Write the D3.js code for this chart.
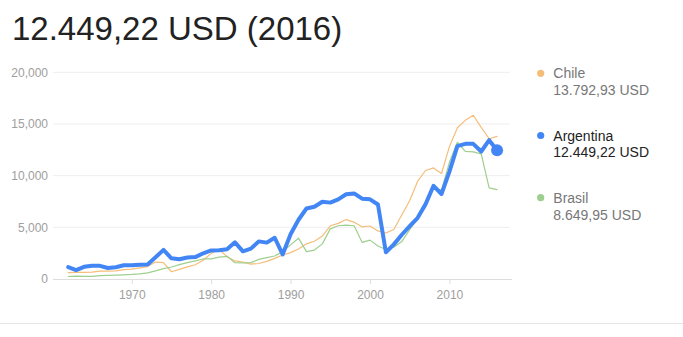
<!DOCTYPE html>
<html>
<head>
<meta charset="utf-8">
<script src="https://cdn.jsdelivr.net/npm/d3@7"></script>
<style>
  body { margin: 0; background: #fff; font-family: Arial, "Liberation Sans", sans-serif; }
  svg { display: block; }
  .tick text { font-family: Arial, "Liberation Sans", sans-serif; }
</style>
</head>
<body>
<svg id="chart" width="683" height="337"></svg>
<script>
const years = d3.range(1962, 2017);

const argentina = [
  1150, 850, 1175, 1280, 1275, 1065, 1140, 1330, 1320, 1375,
  1410, 2100, 2815, 2000, 1910, 2075, 2120, 2490, 2760, 2780,
  2870, 3550, 2680, 2940, 3640, 3520, 3990, 2380, 4330, 5735,
  6820, 6990, 7480, 7390, 7710, 8205, 8280, 7770, 7710, 7210,
  2590, 3350, 4280, 5110, 5920, 7245, 9020, 8225, 10385, 12850,
  13080, 13080, 12335, 13430, 12449.22
];
const chile = [
  620, 640, 650, 670, 760, 770, 790, 900, 950, 1080,
  1200, 1640, 1580, 700, 930, 1180, 1380, 1820, 2480, 2880,
  2150, 1750, 1640, 1440, 1500, 1700, 2000, 2320, 2550, 2900,
  3400, 3650, 4150, 5150, 5380, 5750, 5500, 5050, 5130, 4650,
  4450, 4790, 6200, 7600, 9460, 10500, 10750, 10210, 12810, 14640,
  15350, 15840, 14670, 13570, 13792.93
];
const brasil = [
  240, 280, 258, 257, 318, 348, 376, 408, 445, 503,
  588, 780, 1006, 1158, 1394, 1582, 1758, 1938, 1948, 2121,
  2193, 1577, 1564, 1580, 1895, 2067, 2222, 2650, 3300, 3950,
  2650, 2800, 3400, 4850, 5150, 5220, 5150, 3550, 3760, 3200,
  2850, 3070, 3620, 4770, 5870, 7330, 8820, 8600, 11290, 13230,
  12350, 12300, 12110, 8810, 8649.95
];

const yTicks = [0, 5000, 10000, 15000, 20000];
const xTicks = [1970, 1980, 1990, 2000, 2010];

const series = [
  { name: "Chile", value: "13.792,93 USD", data: chile, color: "#f5bd7a", width: 1.2, active: false },
  { name: "Argentina", value: "12.449,22 USD", data: argentina, color: "#4285f4", width: 4, active: true },
  { name: "Brasil", value: "8.649,95 USD", data: brasil, color: "#9fcf8e", width: 1.2, active: false },
];

const svg = d3.select("#chart");

// headline
svg.append("text")
  .attr("x", 12)
  .attr("y", 40)
  .attr("font-size", 33)
  .attr("fill", "#222")
  .text("12.449,22 USD (2016)");

const x = d3.scaleLinear().domain([1960, 2017.5]).range([52.3, 509]);
const y = d3.scaleLinear().domain([0, 20000]).range([279, 72.3]);

// gridlines
svg.append("g")
  .selectAll("line")
  .data(yTicks.filter((d) => d > 0))
  .join("line")
  .attr("x1", 53)
  .attr("x2", 510)
  .attr("y1", (d) => y(d))
  .attr("y2", (d) => y(d))
  .attr("stroke", "#eeeeee")
  .attr("stroke-width", 1);

// y axis labels
const yAxis = svg.append("g")
  .attr("transform", "translate(53,0)")
  .call(d3.axisLeft(y).tickValues(yTicks).tickFormat(d3.format(",")).tickSize(0).tickPadding(5));
yAxis.select(".domain").remove();
yAxis.selectAll("text").attr("font-size", 12).attr("fill", "#9e9e9e");

// x axis
const xAxis = svg.append("g")
  .attr("transform", `translate(0,${y(0)})`)
  .call(d3.axisBottom(x).tickValues(xTicks).tickFormat(d3.format("d")).tickSize(5).tickSizeOuter(0).tickPadding(6));
xAxis.select(".domain").attr("d", "M53,0.5H512").attr("stroke", "#dddddd");
xAxis.selectAll(".tick line").attr("stroke", "#dddddd");
xAxis.selectAll("text").attr("font-size", 12).attr("fill", "#9e9e9e");

const line = d3.line()
  .x((d, i) => x(years[i]))
  .y((d) => y(d))
  .curve(d3.curveLinear);

// lines, active series drawn on top
series
  .slice()
  .sort((a, b) => a.active - b.active)
  .forEach((s) => {
    svg.append("path")
      .datum(s.data)
      .attr("fill", "none")
      .attr("stroke", s.color)
      .attr("stroke-width", s.width)
      .attr("stroke-linejoin", "round")
      .attr("stroke-linecap", "round")
      .attr("d", line);
  });

// end dot on the highlighted series
const last = argentina.length - 1;
svg.append("circle")
  .attr("cx", x(years[last]))
  .attr("cy", y(argentina[last]))
  .attr("r", 6)
  .attr("fill", "#4285f4");

// legend
const legend = svg.append("g").attr("transform", "translate(540.7,0)");
series.forEach((s, i) => {
  const top = 78.3 + i * 62.2;
  legend.append("circle")
    .attr("cx", 0)
    .attr("cy", top - 5)
    .attr("r", 3.6)
    .attr("fill", s.color);
  legend.append("text")
    .attr("x", 12.6)
    .attr("y", top)
    .attr("font-size", 14)
    .attr("fill", s.active ? "#222" : "#777")
    .text(s.name);
  legend.append("text")
    .attr("x", 12.6)
    .attr("y", top + 16.8)
    .attr("font-size", 14)
    .attr("fill", s.active ? "#222" : "#777")
    .text(s.value);
});

// bottom separator
svg.append("line")
  .attr("x1", 0)
  .attr("x2", 683)
  .attr("y1", 323.5)
  .attr("y2", 323.5)
  .attr("stroke", "#e6e6e6");
</script>
</body>
</html>
